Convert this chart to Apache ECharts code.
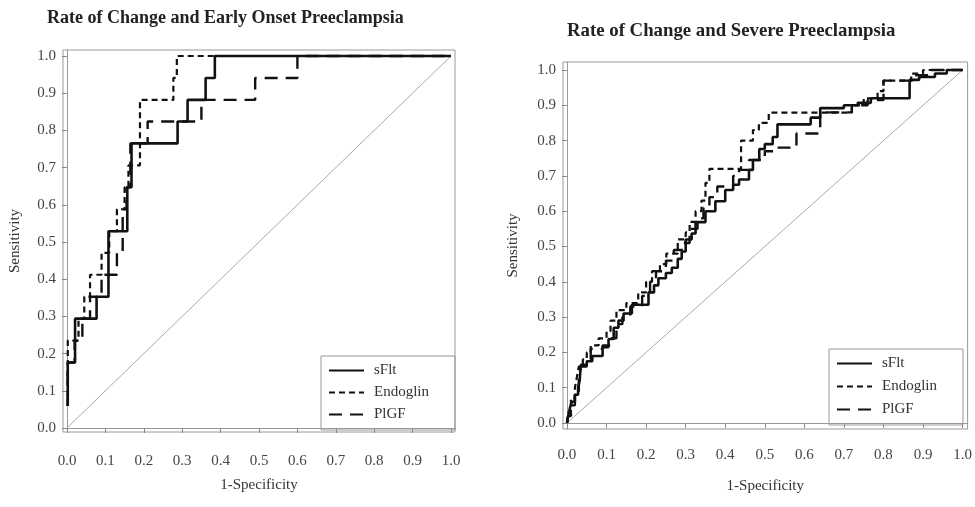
<!DOCTYPE html>
<html>
<head>
<meta charset="utf-8">
<title>ROC - Rate of Change</title>
<script src="https://cdn.jsdelivr.net/npm/echarts@6/dist/echarts.min.js"></script>
<style>
  html, body { margin: 0; padding: 0; background: #fff; }
  #main { width: 975px; height: 507px; }
</style>
</head>
<body>
<div id="main"></div>
<script>
// 系列名
var seriesNames = ['sFlt', 'Endoglin', 'PlGF'];

// 刻度
var tickValues = [0, 0.1, 0.2, 0.3, 0.4, 0.5, 0.6, 0.7, 0.8, 0.9, 1.0];

// 左图：Early Onset —— 每个阶梯的竖直跳变位置(fpr)和跳变后的灵敏度(tpr)
var eoSfltFpr = [0.002, 0.002, 0.021, 0.077, 0.108, 0.157, 0.168, 0.288, 0.314, 0.361, 0.385, 1.0];
var eoSfltTpr = [0.059, 0.176, 0.294, 0.353, 0.529, 0.647, 0.765, 0.824, 0.882, 0.941, 1.0, 1.0];

var eoEndoFpr = [0.002, 0.002, 0.03, 0.045, 0.06, 0.09, 0.11, 0.13, 0.15, 0.16, 0.19, 0.277, 0.286, 1.0];
var eoEndoTpr = [0.059, 0.235, 0.294, 0.353, 0.412, 0.471, 0.529, 0.588, 0.647, 0.706, 0.882, 0.941, 1.0, 1.0];

var eoPlgfFpr = [0.002, 0.002, 0.02, 0.04, 0.06, 0.09, 0.13, 0.145, 0.155, 0.165, 0.21, 0.35, 0.49, 0.6, 1.0];
var eoPlgfTpr = [0.059, 0.176, 0.235, 0.294, 0.353, 0.412, 0.471, 0.588, 0.647, 0.765, 0.824, 0.882, 0.941, 1.0, 1.0];

// 右图：Severe
var svSfltFpr = [0, 0.003, 0.008, 0.012, 0.02, 0.028, 0.032, 0.035, 0.05, 0.064, 0.09, 0.105, 0.118, 0.13, 0.143, 0.164, 0.206, 0.22, 0.231, 0.25, 0.265, 0.28, 0.29, 0.3, 0.315, 0.325, 0.35, 0.375, 0.4, 0.42, 0.435, 0.46, 0.47, 0.486, 0.5, 0.52, 0.532, 0.616, 0.64, 0.7, 0.735, 0.768, 0.866, 0.89, 0.93, 0.96, 1.0];
var svSfltTpr = [0, 0.02, 0.045, 0.06, 0.08, 0.1, 0.12, 0.165, 0.175, 0.19, 0.215, 0.238, 0.27, 0.29, 0.31, 0.335, 0.37, 0.39, 0.41, 0.425, 0.44, 0.465, 0.486, 0.52, 0.537, 0.569, 0.6, 0.628, 0.66, 0.675, 0.69, 0.717, 0.745, 0.776, 0.79, 0.81, 0.846, 0.865, 0.892, 0.9, 0.907, 0.92, 0.972, 0.98, 0.99, 1.0, 1.0];

var svEndoFpr = [0, 0.003, 0.01, 0.02, 0.025, 0.03, 0.04, 0.05, 0.06, 0.08, 0.1, 0.11, 0.125, 0.15, 0.18, 0.2, 0.215, 0.235, 0.251, 0.28, 0.3, 0.31, 0.325, 0.34, 0.35, 0.36, 0.44, 0.47, 0.485, 0.51, 0.72, 0.75, 0.785, 0.8, 0.87, 0.9, 1.0];
var svEndoTpr = [0, 0.03, 0.07, 0.1, 0.13, 0.16, 0.18, 0.2, 0.22, 0.24, 0.26, 0.29, 0.32, 0.34, 0.37, 0.4, 0.43, 0.45, 0.48, 0.52, 0.54, 0.57, 0.6, 0.63, 0.68, 0.72, 0.8, 0.83, 0.85, 0.879, 0.9, 0.92, 0.94, 0.97, 0.99, 1.0, 1.0];

var svPlgfFpr = [0, 0.003, 0.01, 0.02, 0.03, 0.035, 0.05, 0.06, 0.09, 0.11, 0.125, 0.14, 0.16, 0.19, 0.21, 0.225, 0.25, 0.27, 0.29, 0.31, 0.33, 0.345, 0.36, 0.38, 0.42, 0.435, 0.46, 0.5, 0.53, 0.58, 0.64, 0.72, 0.76, 0.8, 0.88, 0.92, 1.0];
var svPlgfTpr = [0, 0.02, 0.05, 0.09, 0.13, 0.16, 0.18, 0.21, 0.22, 0.24, 0.28, 0.3, 0.33, 0.36, 0.4, 0.43, 0.46, 0.49, 0.51, 0.55, 0.58, 0.61, 0.64, 0.67, 0.7, 0.717, 0.745, 0.77, 0.78, 0.82, 0.88, 0.9, 0.915, 0.97, 0.985, 1.0, 1.0];

var serifFont = "'Liberation Serif', 'Times New Roman', serif";

// 阶梯：先水平后竖直
function stairs(fpr, tpr) {
    var pts = [[fpr[0], tpr[0]]];
    for (var i = 1; i < fpr.length; i++) {
        pts.push([fpr[i], tpr[i - 1]]);
        pts.push([fpr[i], tpr[i]]);
    }
    return pts;
}

var lineStyles = {
    'sFlt': { color: '#111', width: 2.6, type: 'solid' },
    'Endoglin': { color: '#111', width: 2.2, type: [6, 4] },
    'PlGF': { color: '#111', width: 2.4, type: [13, 8] }
};

function rocSeries(name, idx, fpr, tpr) {
    return {
        name: name,
        type: 'line',
        xAxisIndex: idx,
        yAxisIndex: idx,
        data: stairs(fpr, tpr),
        symbol: 'none',
        animation: false,
        lineStyle: lineStyles[name],
        itemStyle: { color: '#111' },
        z: 3
    };
}

function diagSeries(idx) {
    return {
        type: 'line',
        xAxisIndex: idx,
        yAxisIndex: idx,
        data: [[0, 0], [1, 1]],
        symbol: 'none',
        silent: true,
        animation: false,
        lineStyle: { color: '#aaa', width: 1 },
        z: 2
    };
}

function makeAxis(idx, min, max, name, nameGap, labelMargin) {
    return {
        type: 'value',
        gridIndex: idx,
        min: min,
        max: max,
        name: name,
        nameLocation: 'middle',
        nameGap: nameGap,
        nameTextStyle: { fontFamily: serifFont, fontSize: 15, color: '#333' },
        axisLine: { show: true, lineStyle: { color: '#999', width: 1 } },
        axisTick: { show: true, length: 5, customValues: tickValues, lineStyle: { color: '#888' } },
        axisLabel: {
            customValues: tickValues,
            formatter: function (v) { return v.toFixed(1); },
            fontFamily: serifFont,
            fontSize: 15,
            color: '#444',
            margin: labelMargin
        },
        splitLine: { show: false }
    };
}

function makeLegend(left, top, gap) {
    return {
        data: seriesNames,
        orient: 'vertical',
        left: left,
        top: top,
        itemWidth: 35,
        itemHeight: 14,
        itemGap: gap,
        padding: [7, 26, 8, 7],
        borderColor: '#999',
        borderWidth: 1,
        itemStyle: { opacity: 0 },
        textStyle: { fontFamily: serifFont, fontSize: 15, color: '#333', padding: [0, 0, 0, 5] }
    };
}

var myChart = echarts.init(document.getElementById('main'));

var option = {
    backgroundColor: '#fff',
    animation: false,
    graphic: [
        {
            type: 'text', left: 47, top: 9,
            style: { text: 'Rate of Change and Early Onset Preeclampsia', font: 'bold 18px ' + serifFont, fill: '#222' }
        },
        {
            type: 'text', left: 567, top: 22,
            style: { text: 'Rate of Change and Severe Preeclampsia', font: 'bold 18.8px ' + serifFont, fill: '#222' }
        }
    ],
    grid: [
        { left: 63, top: 50, width: 392, height: 382, show: true, borderColor: '#999', borderWidth: 1 },
        { left: 563, top: 62, width: 406, height: 367, show: true, borderColor: '#999', borderWidth: 1 }
    ],
    xAxis: [
        makeAxis(0, -4 / 384, 1 + 4 / 384, '1-Specificity', 46, 22),
        makeAxis(1, -4 / 397, 1 + 5 / 397, '1-Specificity', 50, 19)
    ],
    yAxis: [
        makeAxis(0, -4 / 372, 1 + 6 / 372, 'Sensitivity', 40, 7),
        makeAxis(1, -6 / 353, 1 + 8 / 353, 'Sensitivity', 42, 7)
    ],
    legend: [
        makeLegend(321, 356, 7),
        makeLegend(829, 349, 8)
    ],
    series: [
        diagSeries(0),
        rocSeries('PlGF', 0, eoPlgfFpr, eoPlgfTpr),
        rocSeries('Endoglin', 0, eoEndoFpr, eoEndoTpr),
        rocSeries('sFlt', 0, eoSfltFpr, eoSfltTpr),
        diagSeries(1),
        rocSeries('PlGF', 1, svPlgfFpr, svPlgfTpr),
        rocSeries('Endoglin', 1, svEndoFpr, svEndoTpr),
        rocSeries('sFlt', 1, svSfltFpr, svSfltTpr)
    ]
};

myChart.setOption(option);
</script>
</body>
</html>
